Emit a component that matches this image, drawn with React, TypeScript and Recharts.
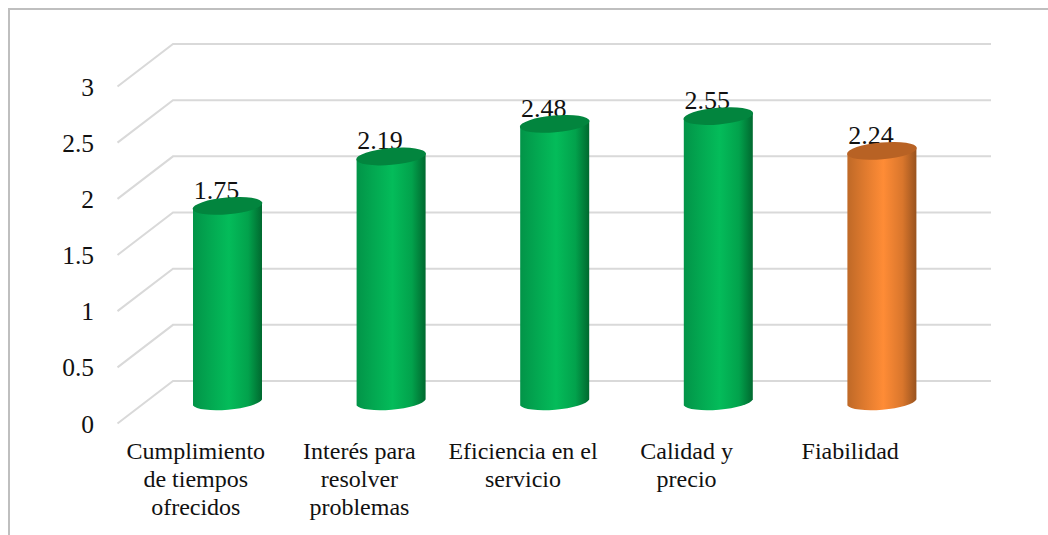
import { BarChart, Bar, XAxis, YAxis, CartesianGrid } from 'recharts'

const categories = [
  'Cumplimiento de tiempos ofrecidos',
  'Interés para resolver problemas',
  'Eficiencia en el servicio',
  'Calidad y precio',
  'Fiabilidad',
]
const categoryLines = [
  ['Cumplimiento', 'de tiempos', 'ofrecidos'],
  ['Interés para', 'resolver', 'problemas'],
  ['Eficiencia en el', 'servicio'],
  ['Calidad y', 'precio'],
  ['Fiabilidad'],
]
const scores = [1.75, 2.19, 2.48, 2.55, 2.24]
const yTicks = [0, 0.5, 1, 1.5, 2, 2.5, 3]
const orangeIndex = 4

const data = categories.map((name, i) => ({ name, score: scores[i], index: i }))

const FONT = '"Liberation Serif", serif'
const GRID_COLOR = '#D9D9D9'

// floor depth of the fake 3D box, relative to the value plane
const DEPTH_X_BACK = 27
const DEPTH_X_FRONT = 28.5
const DEPTH_BACK = 21.5
const DEPTH_FRONT = 21

const ELLIPSE_RY = 8.4
const ELLIPSE_TILT = -5

function GridLine(props: any) {
  const { x1, x2, y1 } = props
  const d = `M${x1 - DEPTH_X_FRONT} ${y1 + DEPTH_FRONT} L${x1 + DEPTH_X_BACK} ${y1 - DEPTH_BACK} L${x2 + DEPTH_X_BACK} ${y1 - DEPTH_BACK}`
  return <path key={props.key} d={d} fill="none" stroke={GRID_COLOR} strokeWidth={2} />
}

function YTick({ x, y, payload }: any) {
  return (
    <text x={x - 46} y={y + DEPTH_FRONT + 9} textAnchor="end" fontFamily={FONT} fontSize={25.5} fill="#111">
      {payload.value}
    </text>
  )
}

function XTick({ x, y, index }: any) {
  return (
    <text textAnchor="middle" fontFamily={FONT} fontSize={24} fill="#111">
      {categoryLines[index].map((line, i) => (
        <tspan key={line} x={x - 32} y={y + 48 + i * 28}>
          {line}
        </tspan>
      ))}
    </text>
  )
}

// value label goes first so the cap of the cylinder sits over it
function Cylinder({ x, y, width, height, payload }: any) {
  const rx = width / 2
  const cx = x + rx
  const bottom = y + height
  const rad = (ELLIPSE_TILT * Math.PI) / 180
  const dy = rx * Math.tan(-rad)
  const orange = payload.index === orangeIndex
  const body =
    `M${x} ${y + dy} L${x + width} ${y - dy} L${x + width} ${bottom - dy} ` +
    `A${rx + 0.5} ${ELLIPSE_RY} ${ELLIPSE_TILT} 0 1 ${x} ${bottom + dy} Z`
  return (
    <g>
      <text x={cx - 11} y={y - 7} textAnchor="middle" fontFamily={FONT} fontSize={26} fill="#111">
        {payload.score}
      </text>
      <path d={body} fill={orange ? 'url(#bodyOrange)' : 'url(#bodyGreen)'} />
      <ellipse
        cx={cx}
        cy={y}
        rx={rx + 0.5}
        ry={ELLIPSE_RY}
        transform={`rotate(${ELLIPSE_TILT} ${cx} ${y})`}
        fill={orange ? '#B86224' : '#02853E'}
      />
    </g>
  )
}

export default function App() {
  return (
    <div
      style={{
        position: 'fixed',
        left: 0,
        top: 0,
        width: 1048,
        height: 535,
        overflow: 'hidden',
        background: '#fff',
      }}
    >
      <div
        style={{
          position: 'absolute',
          left: 8,
          top: 8,
          right: -4,
          bottom: -4,
          borderLeft: '2px solid #BFBFBF',
          borderTop: '2px solid #BFBFBF',
        }}
      />
      <div style={{ position: 'absolute', left: 0, top: 0 }}>
        <BarChart
          width={1048}
          height={535}
          data={data}
          barSize={69}
          margin={{ top: 65.5, right: 84, bottom: 72.5, left: 36 }}
        >
          <defs>
            <linearGradient id="bodyGreen" x1="0" y1="0" x2="1" y2="0">
              <stop offset="0" stopColor="#029448" />
              <stop offset="0.25" stopColor="#03A851" />
              <stop offset="0.52" stopColor="#04BC5A" />
              <stop offset="0.8" stopColor="#02A24C" />
              <stop offset="1" stopColor="#00692F" />
            </linearGradient>
            <linearGradient id="bodyOrange" x1="0" y1="0" x2="1" y2="0">
              <stop offset="0" stopColor="#BF6927" />
              <stop offset="0.25" stopColor="#DF7A2E" />
              <stop offset="0.52" stopColor="#FF8C36" />
              <stop offset="0.8" stopColor="#D9762C" />
              <stop offset="1" stopColor="#99531F" />
            </linearGradient>
          </defs>
          <CartesianGrid vertical={false} horizontal={GridLine} />
          <XAxis
            dataKey="name"
            height={60}
            interval={0}
            tickLine={false}
            axisLine={false}
            tick={XTick}
          />
          <YAxis
            width={110}
            domain={[0, 3]}
            ticks={yTicks}
            tickLine={false}
            axisLine={false}
            tickMargin={0}
            tick={YTick}
          />
          <Bar dataKey="score" isAnimationActive={false} shape={Cylinder} />
        </BarChart>
      </div>
    </div>
  )
}
